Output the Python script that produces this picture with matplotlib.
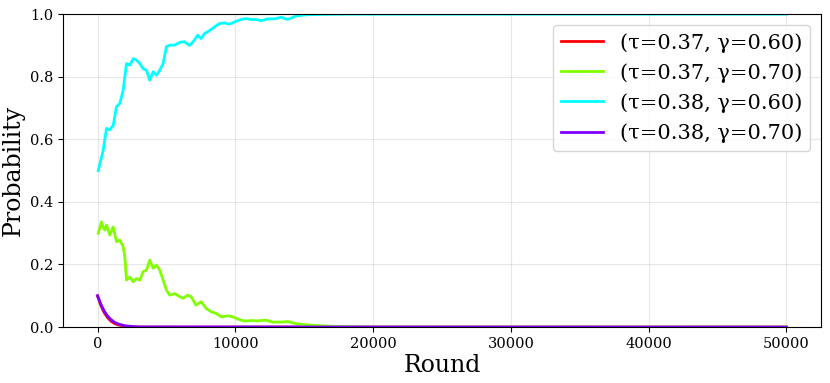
import numpy as np
import matplotlib
matplotlib.use("Agg")
import matplotlib.pyplot as plt

# ================= DATA =================
labels = ["(τ=0.37, γ=0.60)", "(τ=0.37, γ=0.70)", "(τ=0.38, γ=0.60)", "(τ=0.38, γ=0.70)"]
colors = ["#ff0000", "#80ff00", "#00ffff", "#8000ff"]

red_x = [0, 250, 500, 750, 1000, 1250, 1500, 2000, 2500, 3000, 50000]
red_y = [0.100, 0.068, 0.045, 0.029, 0.018, 0.011, 0.007, 0.003, 0.001, 0.0, 0.0]

green_x = [50, 290, 410, 530, 650, 895, 1135, 1380, 1620, 1860, 1980, 2100, 2345, 2590,
           2830, 3070, 3310, 3550, 3790, 4040, 4280, 4520, 4760, 5000, 5240, 5600, 5970,
           6210, 6550, 6790, 7150, 7520, 7880, 8240, 8600, 8970, 9450, 9810, 10170, 10660,
           11140, 11620, 12230, 12710, 13400, 13800, 14280, 14770, 15490, 16300, 17200,
           18500, 20000, 50000]
green_y = [0.300, 0.336, 0.320, 0.310, 0.326, 0.294, 0.320, 0.273, 0.278, 0.257, 0.225,
           0.150, 0.160, 0.145, 0.155, 0.150, 0.177, 0.182, 0.214, 0.188, 0.198, 0.182,
           0.150, 0.118, 0.102, 0.107, 0.097, 0.092, 0.102, 0.097, 0.070, 0.081, 0.060,
           0.049, 0.044, 0.033, 0.036, 0.033, 0.026, 0.019, 0.021, 0.020, 0.022, 0.016,
           0.016, 0.018, 0.012, 0.009, 0.006, 0.004, 0.002, 0.001, 0.0, 0.0]

cyan_x = [50, 413, 650, 890, 1140, 1375, 1620, 1860, 2100, 2345, 2590, 2830, 3070, 3310,
          3550, 3790, 4040, 4280, 4520, 4760, 5000, 5240, 5600, 5970, 6300, 6670, 6910,
          7270, 7520, 7760, 8120, 8480, 8850, 9210, 9570, 9930, 10420, 10780, 11140, 11500,
          11870, 12350, 12830, 13320, 13800, 14400, 15130, 16000, 18000, 50000]
cyan_y = [0.500, 0.565, 0.635, 0.630, 0.645, 0.704, 0.715, 0.757, 0.842, 0.837, 0.858,
          0.853, 0.842, 0.826, 0.821, 0.789, 0.816, 0.805, 0.821, 0.842, 0.896, 0.901,
          0.901, 0.910, 0.912, 0.900, 0.910, 0.933, 0.922, 0.938, 0.947, 0.959, 0.970,
          0.972, 0.968, 0.975, 0.983, 0.986, 0.983, 0.983, 0.979, 0.985, 0.985, 0.990,
          0.983, 0.994, 0.998, 0.999, 1.0, 1.0]

purple_x = [0, 250, 500, 750, 1000, 1250, 1500, 2000, 2500, 3000, 50000]
purple_y = [0.100, 0.072, 0.050, 0.034, 0.023, 0.015, 0.010, 0.004, 0.002, 0.0005, 0.0]

series = [(red_x, red_y), (green_x, green_y), (cyan_x, cyan_y), (purple_x, purple_y)]

# ================= PLOT =================
plt.rcParams["font.family"] = ["DejaVu Serif"]

fig = plt.figure(figsize=(8.3, 3.83), dpi=100)
ax = fig.add_axes([0.076, 0.146, 0.913, 0.817])

for (xs, ys), lab, col in zip(series, labels, colors):
    ax.plot(xs, ys, color=col, linewidth=2, label=lab)

ax.set_ylim(0, 1)
ax.set_xlabel("Round", fontsize=17, labelpad=2)
ax.set_ylabel("Probability", fontsize=17)
ax.tick_params(labelsize=10.5)
ax.grid(True, alpha=0.3)
ax.legend(fontsize=15, loc="upper right")

fig.savefig("out.png", dpi=100)
